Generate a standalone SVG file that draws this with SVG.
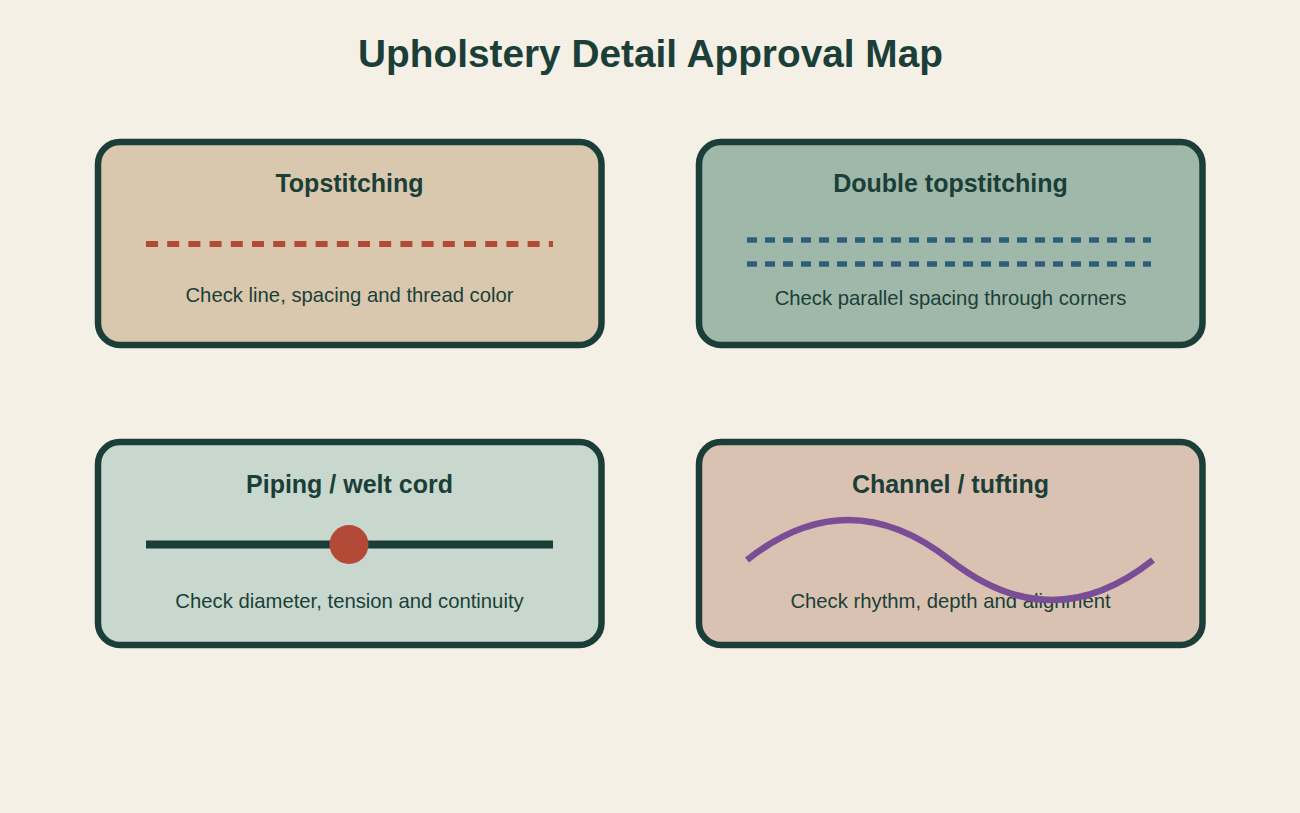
<svg xmlns="http://www.w3.org/2000/svg" width="1300" height="813" viewBox="0 0 1300 813">
<style>
.card{stroke:#1b3f38;stroke-width:6.5}
.ttl{font-family:"Liberation Sans",Arial,sans-serif;font-weight:bold;font-size:25px;fill:#1b3f38;text-anchor:middle}
.sub{font-family:"Liberation Sans",Arial,sans-serif;font-size:20.3px;fill:#1b3f38;text-anchor:middle}
</style>
<rect width="1300" height="813" fill="#f5f0e6"/>
<text x="650.5" y="67" font-family="Liberation Sans, Arial, sans-serif" font-weight="bold" font-size="38.8" fill="#1b3f38" text-anchor="middle">Upholstery Detail Approval Map</text>
<g id="topstitching">
<rect class="card" x="98" y="142" width="503.5" height="203" rx="22" fill="#d9c8ae"/>
<text class="ttl" x="349.5" y="191.5">Topstitching</text>
<line x1="146" y1="244" x2="553" y2="244" stroke="#b34a38" stroke-width="6" stroke-dasharray="12 9.2"/>
<text class="sub" x="349.5" y="302">Check line, spacing and thread color</text>
</g>
<g id="double-topstitching">
<rect class="card" x="699" y="142" width="503.5" height="203" rx="22" fill="#9fb8aa"/>
<text class="ttl" x="950.5" y="191.5">Double topstitching</text>
<line x1="747" y1="240" x2="1151" y2="240" stroke="#2f5f78" stroke-width="5.5" stroke-dasharray="10 8"/>
<line x1="747" y1="264" x2="1151" y2="264" stroke="#2f5f78" stroke-width="5.5" stroke-dasharray="10 8"/>
<text class="sub" x="950.5" y="305">Check parallel spacing through corners</text>
</g>
<g id="piping">
<rect class="card" x="98" y="442" width="503.5" height="203" rx="22" fill="#c8d8ce"/>
<text class="ttl" x="349.5" y="492.5">Piping / welt cord</text>
<line x1="146" y1="544.5" x2="553" y2="544.5" stroke="#1b3f38" stroke-width="8"/>
<circle cx="349" cy="544.5" r="19.5" fill="#b34a38"/>
<text class="sub" x="349.5" y="608">Check diameter, tension and continuity</text>
</g>
<g id="channel">
<rect class="card" x="699" y="442" width="503.5" height="203" rx="22" fill="#dac2b2"/>
<text class="ttl" x="950.5" y="492.5">Channel / tufting</text>
<text class="sub" x="950.5" y="608">Check rhythm, depth and alignment</text>
<path d="M747 560 Q848 480 950 560 T1153 560" fill="none" stroke="#7a4e96" stroke-width="6.5"/>
</g>
</svg>
